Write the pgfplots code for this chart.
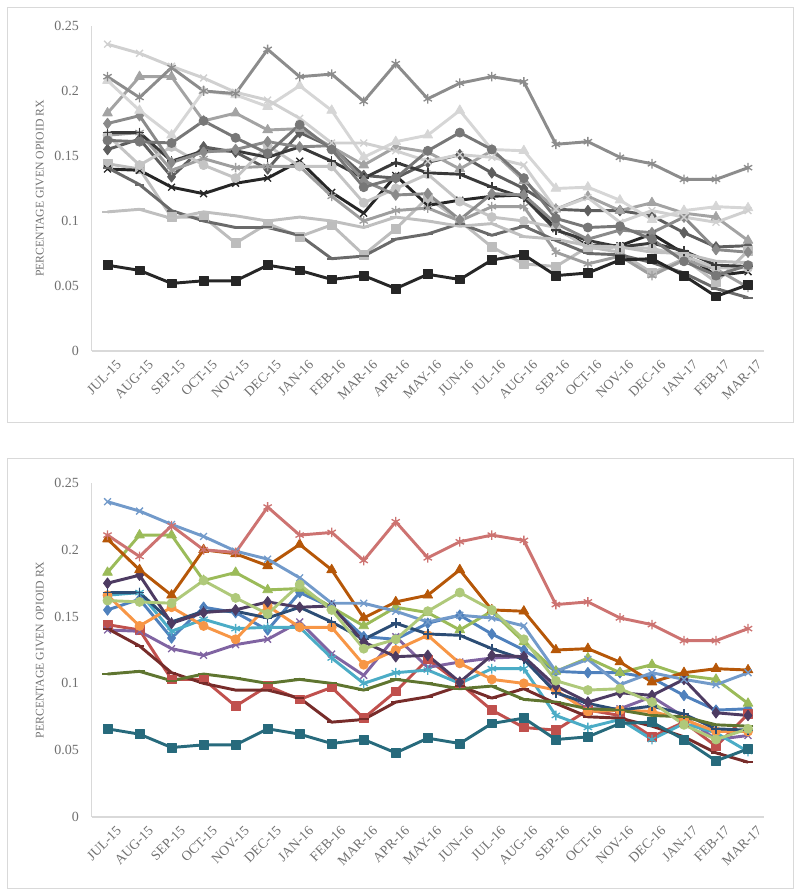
\documentclass[border=0pt]{standalone}
\usepackage{fontspec}
\setmainfont{Liberation Serif}
\usepackage{pgfplots}
\pgfplotsset{compat=1.18}
\usepackage{pgfplotstable}

\definecolor{c1}{HTML}{4F81BD}
\definecolor{c2}{HTML}{C0504D}
\definecolor{c3}{HTML}{9BBB59}
\definecolor{c4}{HTML}{8064A2}
\definecolor{c5}{HTML}{4BACC6}
\definecolor{c6}{HTML}{F79646}
\definecolor{c7}{HTML}{2C4D75}
\definecolor{c8}{HTML}{772C2A}
\definecolor{c9}{HTML}{5F7530}
\definecolor{c10}{HTML}{4D3B62}
\definecolor{c11}{HTML}{276A7C}
\definecolor{c12}{HTML}{B65708}
\definecolor{c13}{HTML}{729ACA}
\definecolor{c14}{HTML}{CD7371}
\definecolor{c15}{HTML}{AFC97A}

\definecolor{g1}{HTML}{5E5E5E}
\definecolor{g2}{HTML}{BDBDBD}
\definecolor{g3}{HTML}{A3A3A3}
\definecolor{g4}{HTML}{262626}
\definecolor{g5}{HTML}{9E9E9E}
\definecolor{g6}{HTML}{C4C4C4}
\definecolor{g7}{HTML}{3A3A3A}
\definecolor{g8}{HTML}{6A6A6A}
\definecolor{g9}{HTML}{BFBFBF}
\definecolor{g10}{HTML}{8A8A8A}
\definecolor{g11}{HTML}{262626}
\definecolor{g12}{HTML}{D6D6D6}
\definecolor{g13}{HTML}{D0D0D0}
\definecolor{g14}{HTML}{8C8C8C}
\definecolor{g15}{HTML}{777777}

\definecolor{txt}{HTML}{707070}
\definecolor{axl}{HTML}{D9D9D9}

\pgfplotstableread{
i S1 S2 S3 S4 S5 S6 S7 S8 S9 S10 S11 S12 S13 S14 S15
0 0.155 0.144 0.183 0.140 0.166 0.166 0.168 0.141 0.107 0.175 0.066 0.208 0.236 0.211 0.162
1 0.163 0.140 0.211 0.139 0.168 0.143 0.168 0.128 0.109 0.181 0.062 0.185 0.229 0.195 0.161
2 0.134 0.103 0.211 0.126 0.139 0.157 0.146 0.108 0.102 0.145 0.052 0.166 0.219 0.218 0.160
3 0.157 0.103 0.177 0.121 0.148 0.143 0.154 0.100 0.107 0.153 0.054 0.200 0.210 0.200 0.177
4 0.153 0.083 0.183 0.129 0.141 0.133 0.154 0.095 0.104 0.155 0.054 0.197 0.199 0.198 0.164
5 0.140 0.098 0.170 0.133 0.142 0.158 0.149 0.095 0.100 0.161 0.066 0.188 0.193 0.232 0.152
6 0.168 0.088 0.171 0.146 0.142 0.142 0.157 0.089 0.103 0.157 0.062 0.204 0.179 0.211 0.174
7 0.157 0.097 0.157 0.122 0.119 0.142 0.146 0.071 0.100 0.158 0.055 0.185 0.160 0.213 0.155
8 0.135 0.074 0.143 0.106 0.100 0.114 0.133 0.073 0.095 0.131 0.058 0.149 0.160 0.192 0.126
9 0.133 0.094 0.157 0.135 0.108 0.125 0.145 0.086 0.103 0.120 0.048 0.161 0.154 0.221 0.133
10 0.145 0.118 0.153 0.112 0.110 0.136 0.137 0.090 0.100 0.121 0.059 0.166 0.146 0.194 0.154
11 0.151 0.100 0.140 0.116 0.100 0.115 0.136 0.098 0.096 0.101 0.055 0.185 0.151 0.206 0.168
12 0.137 0.080 0.154 0.119 0.111 0.103 0.126 0.089 0.098 0.121 0.070 0.155 0.149 0.211 0.155
13 0.125 0.067 0.131 0.120 0.111 0.100 0.118 0.096 0.088 0.120 0.074 0.154 0.143 0.207 0.133
14 0.109 0.065 0.109 0.094 0.076 0.095 0.093 0.085 0.086 0.098 0.058 0.125 0.109 0.159 0.102
15 0.108 0.080 0.119 0.081 0.067 0.079 0.085 0.075 0.081 0.086 0.060 0.126 0.118 0.161 0.095
16 0.108 0.076 0.108 0.081 0.073 0.080 0.080 0.074 0.080 0.093 0.070 0.116 0.099 0.149 0.096
17 0.104 0.060 0.114 0.090 0.058 0.079 0.083 0.068 0.076 0.091 0.071 0.101 0.108 0.144 0.086
18 0.091 0.071 0.106 0.075 0.070 0.073 0.077 0.060 0.075 0.103 0.058 0.108 0.103 0.132 0.069
19 0.080 0.053 0.103 0.058 0.063 0.064 0.066 0.048 0.069 0.078 0.042 0.111 0.099 0.132 0.058
20 0.081 0.077 0.085 0.061 0.049 0.064 0.065 0.041 0.068 0.076 0.051 0.110 0.108 0.141 0.066
}\data

\pgfplotsset{
  base/.style={
    scale only axis, width=504.4pt,
    xmin=-0.5, xmax=20.5, ymin=0, ymax=0.25,
    axis x line=bottom, axis y line=left,
    axis line style={-, draw=axl, line width=0.8pt},
    major tick length=0pt,
    xtick={0,...,20},
    xticklabels={JUL-15,AUG-15,SEP-15,OCT-15,NOV-15,DEC-15,JAN-16,FEB-16,MAR-16,APR-16,MAY-16,JUN-16,JUL-16,AUG-16,SEP-16,OCT-16,NOV-16,DEC-16,JAN-17,FEB-17,MAR-17},
    x tick label style={rotate=45, anchor=east, font=\fontsize{10.3}{11}\selectfont, text=txt, xshift=3.5pt, yshift=-12pt},
    ytick={0,0.05,0.1,0.15,0.2,0.25},
    yticklabels={0,0.05,0.1,0.15,0.2,0.25},
    y tick label style={font=\fontsize{10.5}{12}\selectfont, text=txt, xshift=-6pt},
    every axis y label/.style={at={(axis description cs:-0.077,0.5)}, rotate=90, anchor=center, font=\fontsize{8.8}{10}\selectfont, text=txt},
    ylabel={PERCENTAGE GIVEN OPIOID RX},
    clip=false,
    every axis plot/.append style={line width=2.2pt, line join=round, mark options={solid, line width=0.6pt}},
  },
  m1/.style={mark=diamond*, mark size=4pt},
  m2/.style={mark=square*, mark size=3.3pt},
  m3/.style={mark=triangle*, mark size=4.2pt},
  m4/.style={mark=x, mark size=3.6pt, mark options={line width=1pt}},
  m5/.style={mark=asterisk, mark size=3.6pt, mark options={line width=1pt}},
  m6/.style={mark=*, mark size=3.4pt},
  m7/.style={mark=+, mark size=3.6pt, mark options={line width=1.2pt}},
  m8/.style={mark=-, mark size=3.6pt, mark options={line width=1.5pt}},
  m9/.style={mark=-, mark size=4pt, mark options={line width=1.5pt}},
}

\begin{document}
\begin{tikzpicture}
\path[use as bounding box] (0pt,0pt) rectangle (600pt,672pt);
\draw[axl, line width=0.6pt] (5.25pt,355.5pt) rectangle (594.75pt,666.75pt);
\draw[axl, line width=0.6pt] (5.25pt,6pt) rectangle (594.75pt,328.5pt);

% top panel (grayscale)
\begin{axis}[base, at={(68.625pt,408.75pt)}, anchor=south west, height=243.75pt]
\addplot[color=g1, m1] table[x=i,y=S1]{\data};
\addplot[color=g2, m2] table[x=i,y=S2]{\data};
\addplot[color=g3, m3] table[x=i,y=S3]{\data};
\addplot[color=g4, m4] table[x=i,y=S4]{\data};
\addplot[color=g5, m5] table[x=i,y=S5]{\data};
\addplot[color=g6, m6] table[x=i,y=S6]{\data};
\addplot[color=g7, m7] table[x=i,y=S7]{\data};
\addplot[color=g8, m8] table[x=i,y=S8]{\data};
\addplot[color=g9, m9] table[x=i,y=S9]{\data};
\addplot[color=g10, m1] table[x=i,y=S10]{\data};
\addplot[color=g11, m2] table[x=i,y=S11]{\data};
\addplot[color=g12, m3] table[x=i,y=S12]{\data};
\addplot[color=g13, m4] table[x=i,y=S13]{\data};
\addplot[color=g14, m5] table[x=i,y=S14]{\data};
\addplot[color=g15, m6] table[x=i,y=S15]{\data};
\end{axis}

% bottom panel (colour)
\begin{axis}[base, at={(68.625pt,59.25pt)}, anchor=south west, height=250.5pt]
\addplot[color=c1, m1] table[x=i,y=S1]{\data};
\addplot[color=c2, m2] table[x=i,y=S2]{\data};
\addplot[color=c3, m3] table[x=i,y=S3]{\data};
\addplot[color=c4, m4] table[x=i,y=S4]{\data};
\addplot[color=c5, m5] table[x=i,y=S5]{\data};
\addplot[color=c6, m6] table[x=i,y=S6]{\data};
\addplot[color=c7, m7] table[x=i,y=S7]{\data};
\addplot[color=c8, m8] table[x=i,y=S8]{\data};
\addplot[color=c9, m9] table[x=i,y=S9]{\data};
\addplot[color=c10, m1] table[x=i,y=S10]{\data};
\addplot[color=c11, m2] table[x=i,y=S11]{\data};
\addplot[color=c12, m3] table[x=i,y=S12]{\data};
\addplot[color=c13, m4] table[x=i,y=S13]{\data};
\addplot[color=c14, m5] table[x=i,y=S14]{\data};
\addplot[color=c15, m6] table[x=i,y=S15]{\data};
\end{axis}
\end{tikzpicture}
\end{document}
